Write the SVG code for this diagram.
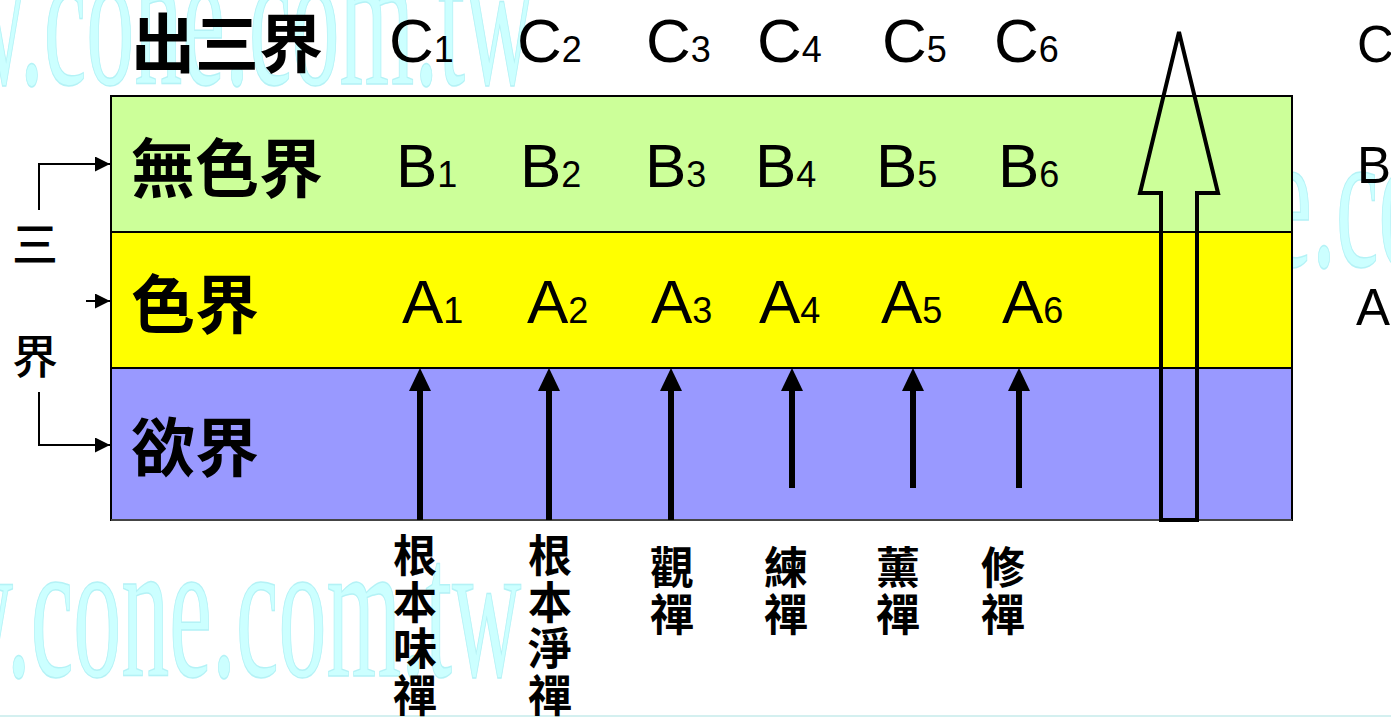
<svg xmlns="http://www.w3.org/2000/svg" width="1391" height="722" viewBox="0 0 1391 722">
<style>
.wm{font-family:"Liberation Serif","Times New Roman",serif;font-size:200px;fill:#ccffff;stroke:#b4f2f6;stroke-width:1.5}
.lat{font-family:"Liberation Sans",Arial,sans-serif;fill:#000}
.big{font-size:62px}
.sub{font-size:36px}
.rt{font-size:51px}
.cjk{font-family:"Noto Sans CJK TC","Noto Sans CJK SC",sans-serif;font-weight:700;fill:#000}
.lbl{font-size:64px}
.side{font-size:46px;font-weight:500}
.vert{font-size:44px;text-anchor:middle}
.thin{stroke:#000;stroke-width:2;fill:none}
.shaft{stroke:#000;stroke-width:6}
</style>
<defs>
<marker id="ah" viewBox="0 0 10 10" refX="10" refY="5" markerWidth="15" markerHeight="15" markerUnits="userSpaceOnUse" orient="auto"><path d="M0,0 L10,5 L0,10 Z" fill="#000"/></marker>
</defs>
<rect width="1391" height="722" fill="#fff"/>
<g id="watermark">
<text class="wm" transform="translate(-182,84) scale(0.48,1)">www.cone.com.tw</text>
<text class="wm" transform="translate(905,266) scale(0.48,1)">www.cone.com.tw</text>
<text class="wm" transform="translate(-195,676) scale(0.48,1)">www.cone.com.tw</text>
<line x1="0" y1="716" x2="1391" y2="716" stroke="#d4f0f0" stroke-width="2"/>
</g>
<g id="bands">
<rect x="111" y="96" width="1181" height="136" fill="#ccff99"/>
<rect x="111" y="232" width="1181" height="136" fill="#ffff00"/>
<rect x="111" y="368" width="1181" height="152" fill="#9999ff"/>
<line x1="111" y1="232" x2="1292" y2="232" stroke="#000" stroke-width="2"/>
<line x1="111" y1="368" x2="1292" y2="368" stroke="#000" stroke-width="2"/>
<rect x="111" y="96" width="1181" height="424" fill="none" stroke="#000" stroke-width="2"/>
<line x1="111" y1="520" x2="1292" y2="520" stroke="#444" stroke-width="2"/>
</g>
<g id="realm-labels">
<text class="cjk lbl" x="131" y="67">出三界</text>
<text class="cjk lbl" x="131" y="192">無色界</text>
<text class="cjk lbl" x="131" y="328">色界</text>
<text class="cjk lbl" x="131" y="471">欲界</text>
</g>
<g id="side-label">
<text class="cjk side" x="35" y="261" text-anchor="middle">三</text>
<text class="cjk side" x="35" y="373" text-anchor="middle">界</text>
</g>
<g id="row-C" class="lat">
<text class="big" x="389" y="62">C<tspan class="sub">1</tspan></text>
<text class="big" x="517" y="62">C<tspan class="sub">2</tspan></text>
<text class="big" x="646" y="62">C<tspan class="sub">3</tspan></text>
<text class="big" x="757" y="62">C<tspan class="sub">4</tspan></text>
<text class="big" x="882" y="62">C<tspan class="sub">5</tspan></text>
<text class="big" x="994" y="62">C<tspan class="sub">6</tspan></text>
<text class="rt" x="1357" y="62">C</text>
</g>
<g id="row-B" class="lat">
<text class="big" x="396" y="187">B<tspan class="sub">1</tspan></text>
<text class="big" x="520" y="187">B<tspan class="sub">2</tspan></text>
<text class="big" x="645" y="187">B<tspan class="sub">3</tspan></text>
<text class="big" x="755" y="187">B<tspan class="sub">4</tspan></text>
<text class="big" x="876" y="187">B<tspan class="sub">5</tspan></text>
<text class="big" x="998" y="187">B<tspan class="sub">6</tspan></text>
<text class="rt" x="1357" y="183">B</text>
</g>
<g id="row-A" class="lat">
<text class="big" x="402" y="323">A<tspan class="sub">1</tspan></text>
<text class="big" x="527" y="323">A<tspan class="sub">2</tspan></text>
<text class="big" x="651" y="323">A<tspan class="sub">3</tspan></text>
<text class="big" x="759" y="323">A<tspan class="sub">4</tspan></text>
<text class="big" x="881" y="323">A<tspan class="sub">5</tspan></text>
<text class="big" x="1002" y="323">A<tspan class="sub">6</tspan></text>
<text class="rt" x="1356" y="325">A</text>
</g>
<g id="method-labels" class="cjk vert">
<text x="415" y="572">根<tspan x="415" dy="46.7">本</tspan><tspan x="415" dy="46.7">味</tspan><tspan x="415" dy="46.7">禪</tspan></text>
<text x="550" y="572">根<tspan x="550" dy="46.7">本</tspan><tspan x="550" dy="46.7">淨</tspan><tspan x="550" dy="46.7">禪</tspan></text>
<text x="672" y="584">觀<tspan x="672" dy="46.7">禪</tspan></text>
<text x="786" y="584">練<tspan x="786" dy="46.7">禪</tspan></text>
<text x="898" y="584">薰<tspan x="898" dy="46.7">禪</tspan></text>
<text x="1003" y="584">修<tspan x="1003" dy="46.7">禪</tspan></text>
</g>
<g id="connectors">
<path class="thin" d="M39,210 V164 H110" marker-end="url(#ah)"/>
<path class="thin" d="M86,301 H110" marker-end="url(#ah)"/>
<path class="thin" d="M39,392 V445 H110" marker-end="url(#ah)"/>
<g id="dhyana-arrows" fill="#000">
<line class="shaft" x1="420" y1="520" x2="420" y2="388"/><path d="M409,391 L420,368 L431,391 Z"/>
<line class="shaft" x1="549" y1="520" x2="549" y2="388"/><path d="M538,391 L549,368 L560,391 Z"/>
<line class="shaft" x1="671" y1="520" x2="671" y2="388"/><path d="M660,391 L671,368 L682,391 Z"/>
<line class="shaft" x1="792" y1="488" x2="792" y2="388"/><path d="M781,391 L792,368 L803,391 Z"/>
<line class="shaft" x1="913" y1="488" x2="913" y2="388"/><path d="M902,391 L913,368 L924,391 Z"/>
<line class="shaft" x1="1019" y1="488" x2="1019" y2="388"/><path d="M1008,391 L1019,368 L1030,391 Z"/>
</g>
<path id="transcend-arrow" d="M1161,520 L1161,193 L1140,193 L1179,32 L1218,193 L1197,193 L1197,520 Z" fill="none" stroke="#000" stroke-width="4" stroke-linejoin="miter"/>
</g>
</svg>
